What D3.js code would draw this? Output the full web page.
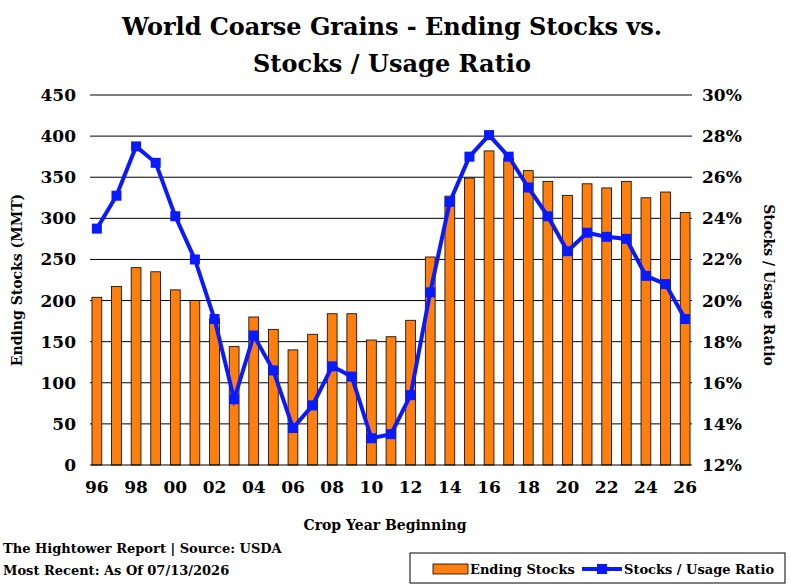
<!DOCTYPE html>
<html><head><meta charset="utf-8">
<script src="https://cdn.jsdelivr.net/npm/d3@7"></script>
<style>body{margin:0;background:#fff}text{font-family:"DejaVu Serif","Liberation Serif",serif;font-weight:bold}</style>
</head><body><svg id="c" width="791" height="587"></svg>
<script>
const years=["96","97","98","99","00","01","02","03","04","05","06","07","08","09","10","11","12","13","14","15","16","17","18","19","20","21","22","23","24","25","26"];
const stocks=[204,217,240,235,213,200,178,144,180,165,140,159,184,184,152,156,176,253,327,349,382,373,358,345,328,342,337,345,325,332,307];
const ratio=[23.5,25.1,27.5,26.7,24.1,22.0,19.1,15.2,18.3,16.6,13.8,14.9,16.8,16.3,13.3,13.5,15.4,20.4,24.8,27.0,28.05,27.0,25.5,24.1,22.4,23.3,23.1,23.0,21.2,20.8,19.1];
const leftTicks=[0,50,100,150,200,250,300,350,400,450];
const rightTicks=[12,14,16,18,20,22,24,26,28,30];
const svg=d3.select("#c");
const L=90,R=692,T=95,B=465;
const x=d3.scaleBand().domain(years).range([L,R]).paddingInner(0.5).paddingOuter(0.1);
const y=d3.scaleLinear().domain([0,450]).range([B,T]);
const y2=d3.scaleLinear().domain([12,30]).range([B,T]);
svg.append("g").selectAll("line").data(leftTicks.slice(1)).join("line")
 .attr("x1",L).attr("x2",R).attr("y1",d=>y(d)).attr("y2",d=>y(d)).attr("stroke","#000").attr("stroke-width",1);
svg.append("g").selectAll("rect").data(stocks).join("rect")
 .attr("x",(d,i)=>x(years[i])).attr("width",x.bandwidth()).attr("y",d=>y(d)).attr("height",d=>B-y(d))
 .attr("fill","#ff7f0e").attr("stroke","#000").attr("stroke-width",0.8);
svg.append("line").attr("x1",L).attr("x2",R).attr("y1",B).attr("y2",B).attr("stroke","#000");
const ax=svg.append("g").attr("transform",`translate(0,${B})`).call(d3.axisBottom(x).tickValues(years.filter((d,i)=>i%2==0)).tickSize(0).tickPadding(16));
ax.select(".domain").remove();ax.selectAll("text").attr("font-size",17).attr("fill","#000");
const al=svg.append("g").attr("transform",`translate(${L},0)`).call(d3.axisLeft(y).tickValues(leftTicks).tickSize(0).tickPadding(14));
al.select(".domain").remove();al.selectAll("text").attr("font-size",17).attr("fill","#000");
const ar=svg.append("g").attr("transform",`translate(${R},0)`).call(d3.axisRight(y2).tickValues(rightTicks).tickSize(0).tickPadding(10).tickFormat(d=>d+"%"));
ar.select(".domain").remove();ar.selectAll("text").attr("font-size",17).attr("fill","#000");
const cx=(d,i)=>x(years[i])+x.bandwidth()/2;
svg.append("path").datum(ratio).attr("fill","none").attr("stroke","#0a1aff").attr("stroke-width",4)
 .attr("d",d3.line().x(cx).y(d=>y2(d)));
svg.append("g").selectAll("rect").data(ratio).join("rect")
 .attr("x",(d,i)=>cx(d,i)-5).attr("y",d=>y2(d)-5).attr("width",10).attr("height",10).attr("fill","#0a1aff");
svg.append("text").attr("x",392).attr("y",35).attr("text-anchor","middle").attr("font-size",24).attr("textLength",540).text("World Coarse Grains - Ending Stocks vs.");
svg.append("text").attr("x",392).attr("y",72).attr("text-anchor","middle").attr("font-size",24).attr("textLength",278).text("Stocks / Usage Ratio");
svg.append("text").attr("transform","translate(22,280) rotate(-90)").attr("text-anchor","middle").attr("font-size",14).text("Ending Stocks (MMT)");
svg.append("text").attr("transform","translate(764,285) rotate(90)").attr("text-anchor","middle").attr("font-size",14).text("Stocks / Usage Ratio");
svg.append("text").attr("x",385).attr("y",530).attr("text-anchor","middle").attr("font-size",14).text("Crop Year Beginning");
svg.append("text").attr("x",3).attr("y",553).attr("font-size",13).text("The Hightower Report | Source: USDA");
svg.append("text").attr("x",3).attr("y",575).attr("font-size",13).text("Most Recent: As Of 07/13/2026");
svg.append("rect").attr("x",410).attr("y",553).attr("width",375).attr("height",30).attr("fill","none").attr("stroke","#000");
svg.append("rect").attr("x",433).attr("y",564).attr("width",35).attr("height",10).attr("fill","#ff7f0e").attr("stroke","#000").attr("stroke-width",0.8);
svg.append("text").attr("x",470).attr("y",574).attr("font-size",13).text("Ending Stocks");
svg.append("line").attr("x1",582).attr("x2",622).attr("y1",569).attr("y2",569).attr("stroke","#0a1aff").attr("stroke-width",4);
svg.append("rect").attr("x",597).attr("y",564).attr("width",10).attr("height",10).attr("fill","#0a1aff");
svg.append("text").attr("x",624).attr("y",574).attr("font-size",13).text("Stocks / Usage Ratio");
</script></body></html>
